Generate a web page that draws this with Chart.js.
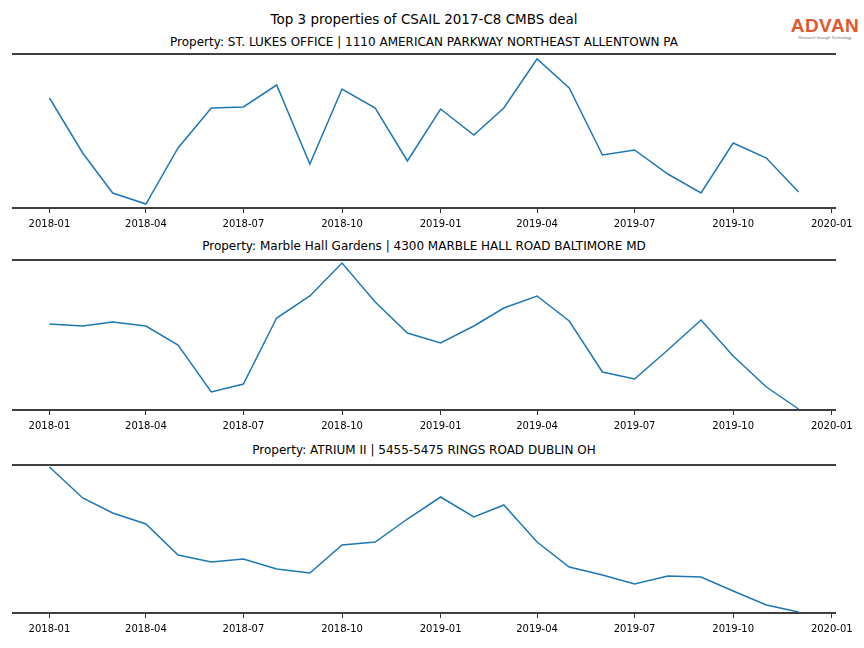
<!DOCTYPE html>
<html>
<head>
<meta charset="utf-8">
<script src="https://cdn.jsdelivr.net/npm/chart.js@4"></script>
<style>
  body { margin: 0; background: #fff; font-family: "DejaVu Sans", sans-serif; }
  #wrap { position: relative; width: 864px; height: 648px; overflow: hidden; }
  .txt { position: absolute; left: 0; width: 848px; text-align: center; color: #000; white-space: nowrap; }
  .box { position: absolute; left: 0; width: 864px; }
  #logo { position: absolute; left: 790px; top: 16px; width: 70px; text-align: center; }
</style>
</head>
<body>
<div id="wrap">
  <div class="txt" style="top:11px;font-size:13.5px;">Top 3 properties of CSAIL 2017-C8 CMBS deal</div>
  <div class="txt" style="top:35px;font-size:12px;">Property: ST. LUKES OFFICE | 1110 AMERICAN PARKWAY NORTHEAST ALLENTOWN PA</div>
  <div class="txt" style="top:239px;font-size:12px;">Property: Marble Hall Gardens | 4300 MARBLE HALL ROAD BALTIMORE MD</div>
  <div class="txt" style="top:443px;font-size:12px;">Property: ATRIUM II | 5455-5475 RINGS ROAD DUBLIN OH</div>
  <div id="logo">
    <div style="font-family:'Liberation Sans',sans-serif;font-weight:bold;font-size:19px;color:#e2572b;line-height:19px;letter-spacing:0.5px;">ADVAN</div>
    <div style="font-family:'Liberation Sans',sans-serif;font-size:4px;color:#777;line-height:5px;">Research through Technology</div>
  </div>
  <div class="box" style="top:53px;height:179px;"><canvas id="c1"></canvas></div>
  <div class="box" style="top:259px;height:175px;"><canvas id="c2"></canvas></div>
  <div class="box" style="top:464px;height:173px;"><canvas id="c3"></canvas></div>
</div>
<script>
// monthly points, 2018-01 .. 2019-12
const months = [
  "2018-01", "2018-02", "2018-03", "2018-04", "2018-05", "2018-06",
  "2018-07", "2018-08", "2018-09", "2018-10", "2018-11", "2018-12",
  "2019-01", "2019-02", "2019-03", "2019-04", "2019-05", "2019-06",
  "2019-07", "2019-08", "2019-09", "2019-10", "2019-11", "2019-12"
];
const tickLabels = ["2018-01", "2018-04", "2018-07", "2018-10", "2019-01", "2019-04", "2019-07", "2019-10", "2020-01"];

// relative visit levels (no y axis in the original), with each panel's y range
const stLukes = [110, 55, 15, 4, 60, 100, 101, 123, 44, 119, 100, 47, 99, 73, 100, 149, 120, 53, 58, 34, 15, 65, 50, 16];
const stLukesRange = [0, 154];
const marbleHall = [86, 84, 88, 84, 65, 18, 26, 92, 114, 147, 108, 77, 67, 84, 102, 114, 89, 38, 31, 60, 90, 54, 23, 1];
const marbleHallRange = [0, 150];
const atrium = [146, 115, 100, 89, 58, 51, 54, 44, 40, 68, 71, 94, 116, 96, 108, 71, 46, 38, 29, 37, 36, 22, 8, 1];
const atriumRange = [0, 148];

const toMs = (s) => {
  const p = s.split("-");
  return Date.UTC(+p[0], +p[1] - 1, 1);
};

const xFirst = toMs(months[0]);
const xLast = toMs(months[months.length - 1]);
const xPad = (xLast - xFirst) * 0.05;

const spines = {
  id: "spines",
  afterDraw(chart) {
    const a = chart.chartArea;
    const ctx = chart.ctx;
    ctx.save();
    ctx.strokeStyle = "#3f3f3f";
    ctx.lineWidth = 2;
    ctx.beginPath();
    ctx.moveTo(a.left, a.top);
    ctx.lineTo(a.right, a.top);
    ctx.moveTo(a.left, a.bottom);
    ctx.lineTo(a.right, a.bottom);
    ctx.stroke();
    ctx.restore();
  },
};

function makeChart(id, values, range) {
  const pts = months.map((mo, i) => ({ x: toMs(mo), y: values[i] }));

  new Chart(document.getElementById(id), {
    type: "line",
    data: {
      datasets: [{
        data: pts,
        borderColor: "#1f77b4",
        borderWidth: 1.5,
        pointRadius: 0,
        tension: 0,
        fill: false,
      }],
    },
    options: {
      responsive: true,
      maintainAspectRatio: false,
      animation: false,
      layout: { padding: { left: 12, right: 28, top: 1, bottom: 0 } },
      plugins: { legend: { display: false }, tooltip: { enabled: false } },
      scales: {
        x: {
          type: "linear",
          min: xFirst - xPad,
          max: xLast + xPad,
          afterBuildTicks(scale) {
            scale.ticks = tickLabels.map((t) => ({ value: toMs(t) }));
          },
          afterFit(scale) {
            scale.height = 24;
          },
          border: { display: false },
          grid: { drawOnChartArea: false, tickLength: 5, color: "#333", tickWidth: 1 },
          ticks: {
            autoSkip: false,
            maxRotation: 0,
            padding: 5,
            color: "#000",
            font: { family: "DejaVu Sans", size: 10 },
            callback(v) {
              const d = new Date(v);
              return d.getUTCFullYear() + "-" + String(d.getUTCMonth() + 1).padStart(2, "0");
            },
          },
        },
        y: {
          display: false,
          min: range[0],
          max: range[1],
        },
      },
    },
    plugins: [spines],
  });
}

makeChart("c1", stLukes, stLukesRange);
makeChart("c2", marbleHall, marbleHallRange);
makeChart("c3", atrium, atriumRange);
</script>
</body>
</html>
